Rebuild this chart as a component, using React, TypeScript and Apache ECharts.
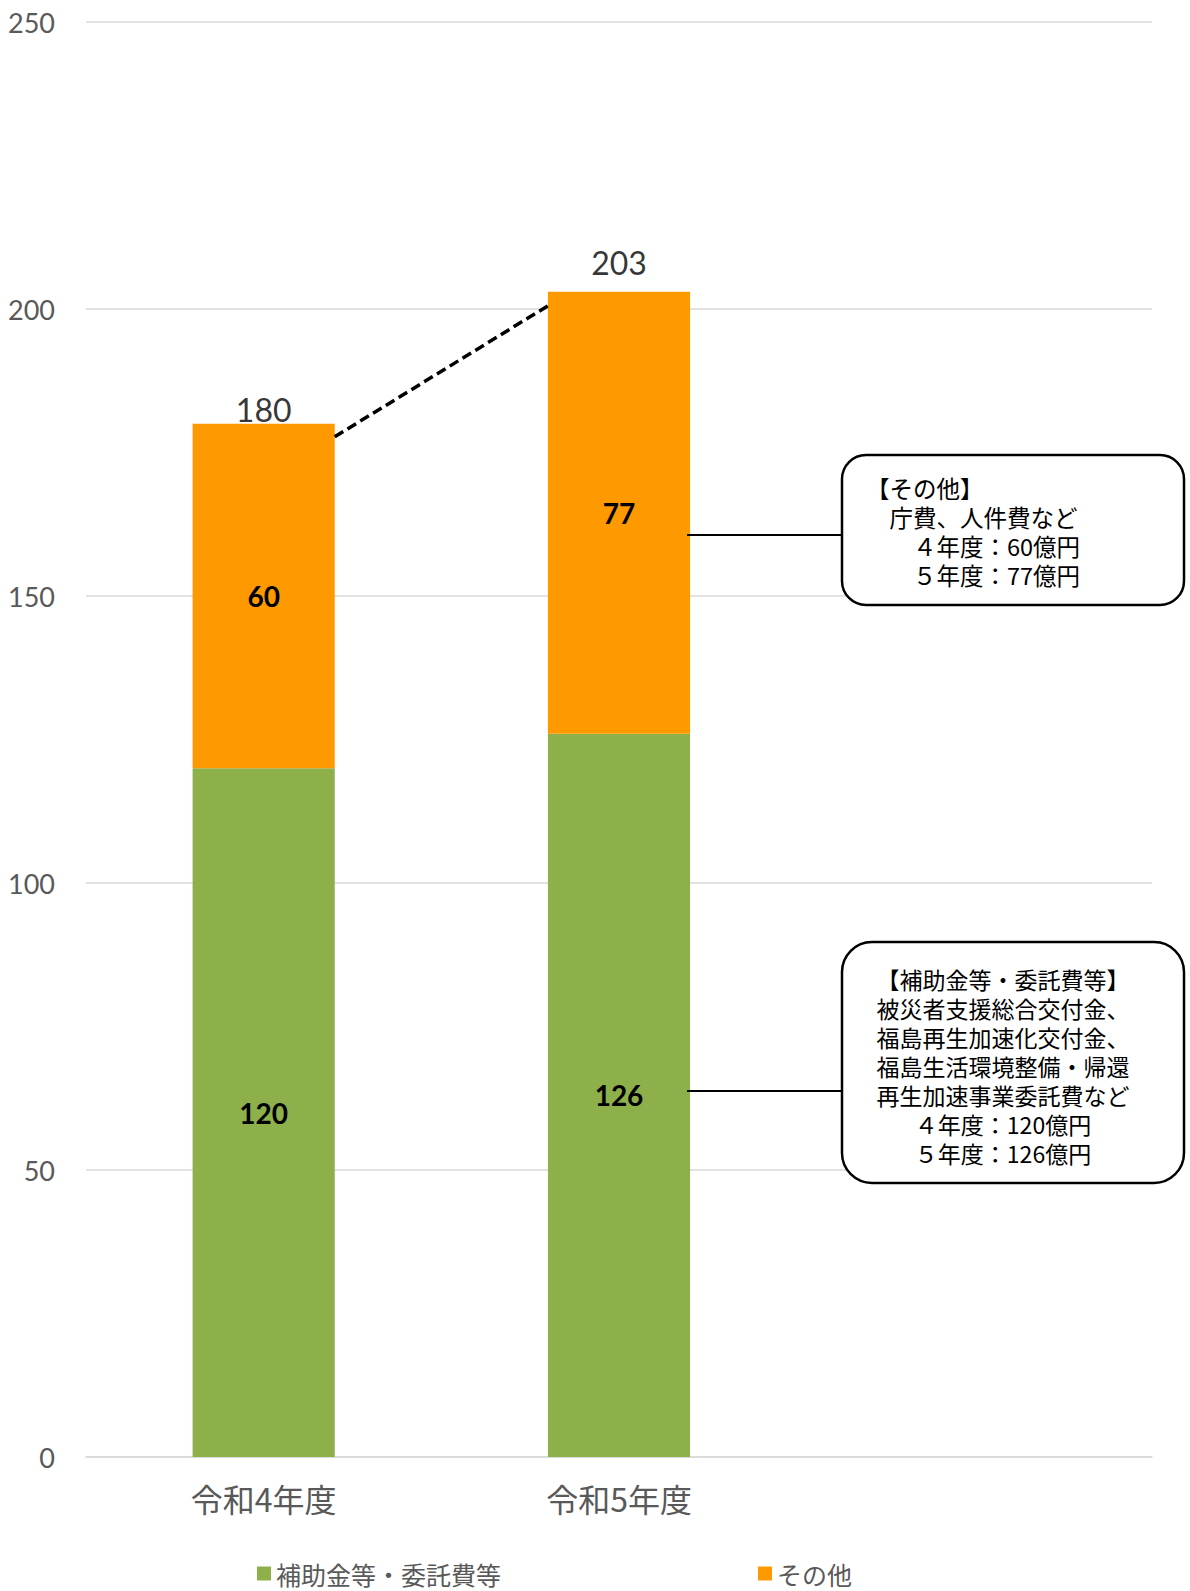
import React, { useEffect, useRef } from "react";
import * as echarts from "echarts";

// Budget breakdown by fiscal year (億円)
const categories = ["令和4年度", "令和5年度", ""];
const subsidyValues: (number | null)[] = [120, 126, null];
const otherValues: (number | null)[] = [60, 77, null];
const totalValues = [180, 203];
const seriesNames = ["補助金等・委託費等", "その他"];

const otherNoteLines = [
  "【その他】",
  "　庁費、人件費など",
  "　　４年度：60億円",
  "　　５年度：77億円",
];
const subsidyNoteLines = [
  "【補助金等・委託費等】",
  "被災者支援総合交付金、",
  "福島再生加速化交付金、",
  "福島生活環境整備・帰還",
  "再生加速事業委託費など",
  "４年度：120億円",
  "５年度：126億円",
];

const GREEN = "#8DB04A";
const ORANGE = "#FF9900";
const AXIS_GRAY = "#595959";
const NUM_FONT = "Lato, 'Liberation Sans', sans-serif";
const CJK_FONT = "'Noto Sans CJK JP', 'Noto Sans', sans-serif";

export default function App() {
  const ref = useRef<HTMLDivElement>(null);

  useEffect(() => {
    document.body.style.margin = "0";
    if (!ref.current) return;
    const chart = echarts.init(ref.current, null, { renderer: "svg" });

    const segmentLabel = {
      show: true,
      position: "inside",
      color: "#000",
      fontSize: 28,
      fontWeight: "bold",
      fontFamily: NUM_FONT,
    };

    chart.setOption({
      animation: false,
      backgroundColor: "#fff",
      grid: { left: 86, right: 38, top: 22, bottom: 134 },
      legend: {
        data: seriesNames,
        left: 257,
        top: 1561,
        padding: 0,
        icon: "rect",
        itemWidth: 14,
        itemHeight: 14,
        itemGap: 257,
        textStyle: { color: AXIS_GRAY, fontSize: 25, fontFamily: CJK_FONT },
      },
      xAxis: {
        type: "category",
        data: categories,
        axisTick: { show: false },
        axisLine: { lineStyle: { color: "#D9D9D9", width: 1.5 } },
        axisLabel: { color: AXIS_GRAY, fontSize: 32, fontFamily: CJK_FONT, margin: 25 },
      },
      yAxis: {
        type: "value",
        min: 0,
        max: 250,
        interval: 50,
        axisLine: { show: false },
        axisTick: { show: false },
        splitLine: { lineStyle: { color: "#D9D9D9", width: 1.5 } },
        axisLabel: { color: AXIS_GRAY, fontSize: 27, fontFamily: NUM_FONT, margin: 31 },
      },
      series: [
        {
          name: seriesNames[0],
          type: "bar",
          stack: "total",
          barWidth: "40%",
          data: subsidyValues,
          itemStyle: { color: GREEN },
          label: segmentLabel,
        },
        {
          name: seriesNames[1],
          type: "bar",
          stack: "total",
          barWidth: "40%",
          data: otherValues,
          itemStyle: { color: ORANGE },
          label: segmentLabel,
        },
        {
          name: "合計",
          type: "scatter",
          symbolSize: 1,
          itemStyle: { color: "rgba(0,0,0,0)" },
          data: [
            { value: totalValues[0], label: { distance: -2 } },
            { value: totalValues[1], label: { distance: 13 } },
          ],
          label: {
            show: true,
            position: "top",
            color: "#000",
            fontSize: 32,
            fontFamily: NUM_FONT,
          },
          z: 5,
        },
      ],
    });

    // Annotation graphics positioned from the chart's own scales
    const xA = chart.convertToPixel({ xAxisIndex: 0 }, categories[0]) as number;
    const xB = chart.convertToPixel({ xAxisIndex: 0 }, categories[1]) as number;
    const band = xB - xA;
    const halfBar = (band * 0.4) / 2;
    const yOf = (v: number) => chart.convertToPixel({ yAxisIndex: 0 }, v) as number;

    const boxLeft = 842;
    const boxRight = 1184;
    const box1 = { top: 455, bottom: 605 };
    const box2 = { top: 942, bottom: 1183 };

    const graphics: any[] = [
      {
        type: "line",
        shape: {
          x1: xA + halfBar,
          y1: yOf(totalValues[0]) + 13,
          x2: xB - halfBar,
          y2: yOf(totalValues[1]) + 14,
        },
        style: { stroke: "#000", lineWidth: 3.5, lineDash: [10, 5] },
        z: 10,
      },
      {
        type: "line",
        shape: { x1: xB + halfBar - 3, y1: 535, x2: boxLeft, y2: 535 },
        style: { stroke: "#000", lineWidth: 2 },
        z: 10,
      },
      {
        type: "line",
        shape: { x1: xB + halfBar - 3, y1: 1091, x2: boxLeft, y2: 1091 },
        style: { stroke: "#000", lineWidth: 2 },
        z: 10,
      },
      {
        type: "rect",
        shape: { x: boxLeft, y: box1.top, width: boxRight - boxLeft, height: box1.bottom - box1.top, r: 24 },
        style: { fill: "#fff", stroke: "#000", lineWidth: 2.5 },
        z: 10,
      },
      {
        type: "rect",
        shape: { x: boxLeft, y: box2.top, width: boxRight - boxLeft, height: box2.bottom - box2.top, r: 30 },
        style: { fill: "#fff", stroke: "#000", lineWidth: 2.5 },
        z: 10,
      },
    ];

    otherNoteLines.forEach((t, i) => {
      graphics.push({
        type: "text",
        x: 866,
        y: 488 + i * 29,
        style: {
          text: t,
          fill: "#000",
          fontSize: 23.5,
          fontFamily: CJK_FONT,
          align: "left",
          verticalAlign: "middle",
        },
        z: 11,
      });
    });

    // Lines 1-5 share the same width, so centring keeps them flush left
    subsidyNoteLines.forEach((t, i) => {
      graphics.push({
        type: "text",
        x: 1003,
        y: 979 + i * 29,
        style: {
          text: t,
          fill: "#000",
          fontSize: 23,
          fontFamily: CJK_FONT,
          align: "center",
          verticalAlign: "middle",
        },
        z: 11,
      });
    });

    chart.setOption({ graphic: graphics });

    return () => chart.dispose();
  }, []);

  return <div ref={ref} style={{ width: 1190, height: 1591 }} />;
}
